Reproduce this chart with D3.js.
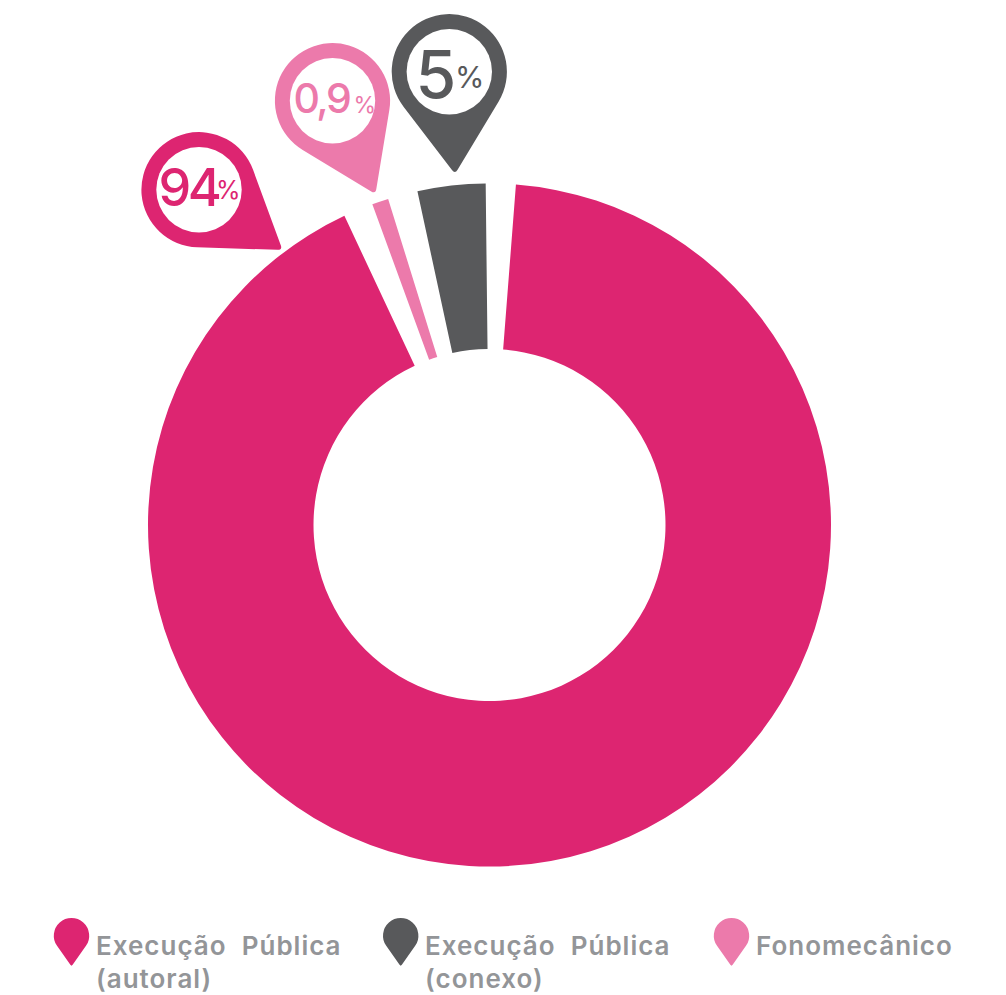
<!DOCTYPE html>
<html><head><meta charset="utf-8">
<script src="https://cdn.jsdelivr.net/npm/d3@7"></script>
<style>html,body{margin:0;padding:0;background:#fff;overflow:hidden}svg{display:block}</style>
</head><body><svg id="c" width="1006" height="995"></svg>
<script>
const categories = ["Execução Pública (autoral)", "Fonomecânico", "Execução Pública (conexo)"];
const percentLabels = ["94", "0,9", "5"];
// Angular sweep of each ring segment as drawn in the picture (degrees)
const drawnSweep = [330.55, 2.8, 11.55];
const colors = ["#dd2571", "#ec7aab", "#58595b"];
const legendOrder = [0, 2, 1];
const legendLines = [["Execução  Pública", "(autoral)"], ["Fonomecânico"], ["Execução  Pública", "(conexo)"]];

const svg = d3.select("#c");
const rad = d3.scaleLinear().domain([0, 360]).range([0, 2 * Math.PI]);
const cx = 489.5, cy = 525;
const pad = rad(5.08);
const pie = d3.pie().sort(null).value(d => d).startAngle(rad(1.9)).endAngle(rad(361.9)).padAngle(pad);
const arc = d3.arc().innerRadius(176).outerRadius(341.5);
svg.append("g").attr("transform", `translate(${cx},${cy})`)
  .selectAll("path").data(pie(drawnSweep)).join("path")
  .attr("fill", (d, i) => colors[i])
  .attr("d", d => arc({startAngle: d.startAngle + pad / 2, endAngle: d.endAngle - pad / 2}));

// Teardrop: circle of radius r at (x,y), tangents run to a rounded tip
function pinPath(x, y, r, tx, ty, round) {
  const dx = tx - x, dy = ty - y, dist = Math.hypot(dx, dy), base = Math.atan2(dy, dx);
  const off = Math.acos(r / dist);
  const a1 = base - off, a2 = base + off;
  const p1 = [x + r * Math.cos(a1), y + r * Math.sin(a1)];
  const p2 = [x + r * Math.cos(a2), y + r * Math.sin(a2)];
  const toward = (p, q, d) => { const l = Math.hypot(q[0]-p[0], q[1]-p[1]); return [p[0] + (q[0]-p[0]) * d / l, p[1] + (q[1]-p[1]) * d / l]; };
  const tip = [tx, ty];
  const q1 = toward(tip, p1, round), q2 = toward(tip, p2, round);
  return `M${p1}L${q1}Q${tip} ${q2}L${p2}A${r} ${r} 0 1 1 ${p1}Z`;
}
const pins = [
  {x: 199, y: 189.7, tx: 282.5, ty: 250, nx: 158.5, ny: 206, ns: 52, nsp: -3.5, px: 216, py: 199, ps: 25},
  {x: 332.5, y: 100.7, tx: 375.5, ty: 194, nx: 293.5, ny: 113, ns: 41, nsp: -2.5, px: 353.5, py: 113, ps: 23},
  {x: 449.3, y: 71.7, tx: 455, ty: 174, nx: 415.5, ny: 98, ns: 66, nsp: 0, px: 455, py: 88, ps: 30}
];
const font = "Inter, Lato, sans-serif";
pins.forEach((p, i) => {
  svg.append("path").attr("d", pinPath(p.x, p.y, 57.6, p.tx, p.ty, 5)).attr("fill", colors[i]);
  svg.append("circle").attr("cx", p.x).attr("cy", p.y).attr("r", 42.7).attr("fill", "#fff");
  svg.append("text").attr("x", p.nx).attr("y", p.ny)
    .attr("font-family", font).attr("font-size", p.ns).attr("font-weight", 500)
    .attr("letter-spacing", p.nsp).attr("fill", colors[i]).text(percentLabels[i]);
  svg.append("text").attr("x", p.px).attr("y", p.py)
    .attr("font-family", font).attr("font-size", p.ps).attr("font-weight", 400)
    .attr("fill", colors[i]).text("%");
});

// Legend
const legendX = [71.5, 400.7, 731.5], textX = [96, 425, 756];
legendOrder.forEach((idx, k) => {
  svg.append("path").attr("d", pinPath(legendX[k], 935.7, 17.7, legendX[k], 966.5, 2)).attr("fill", colors[idx]);
  const t = svg.append("text").attr("font-family", font).attr("font-size", 26).attr("font-weight", 600)
    .attr("letter-spacing", 1).attr("fill", "#939598").style("white-space", "pre");
  legendLines[idx].forEach((line, j) => {
    t.append("tspan").attr("x", textX[k]).attr("y", 955 + j * 33).text(line);
  });
});
</script></body></html>
